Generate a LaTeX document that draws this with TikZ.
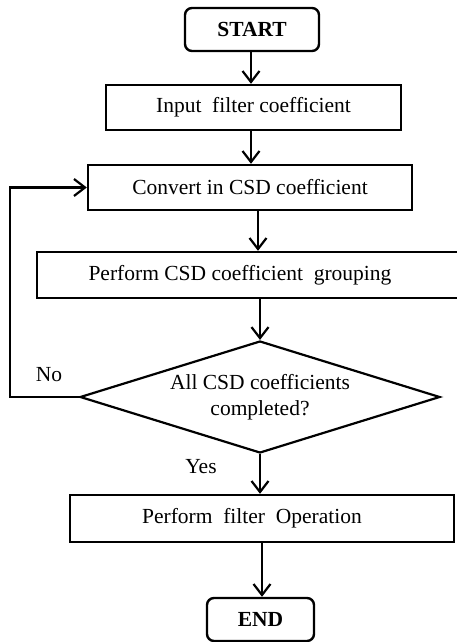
\documentclass[tikz,border=0pt]{standalone}
\usepackage{fontspec}
\setmainfont{Liberation Serif}
\usetikzlibrary{shapes.geometric,arrows.meta}
\begin{document}
\begin{tikzpicture}[x=1pt,y=-1pt,
  font=\fontsize{21.5}{26}\selectfont,
  box/.style={draw,line width=2.4pt,rectangle,inner sep=0pt},
  term/.style={draw,line width=2.4pt,rectangle,rounded corners=7pt,inner sep=0pt,font=\fontsize{21.5}{26}\selectfont\bfseries},
  decision/.style={draw,line width=2.2pt,diamond,aspect=3.2,inner sep=0pt,align=center},
  arr/.style={line width=2.2pt,-{Straight Barb[length=11pt,width=17pt,line width=2.2pt]}},
  lbl/.style={inner sep=0pt}]
\useasboundingbox (0,0) rectangle (456,642);
\node[term,minimum width=134pt,minimum height=43pt] (start) at (252,29.5) {START};
\node[box,minimum width=295pt,minimum height=45pt] (input) at (253.5,107.5) {Input\ \ filter coefficient};
\node[box,minimum width=324pt,minimum height=45pt] (conv) at (250,187.5) {Convert in CSD coefficient};
\node[box,minimum width=436pt,minimum height=46pt] (group) at (255,275) {\hspace*{-30pt}Perform CSD coefficient\ \ grouping};
\node[decision,minimum width=360pt,minimum height=112pt] (dec) at (260,397) {All CSD coefficients\\completed?};
\node[box,minimum width=384pt,minimum height=47pt] (perf) at (262,518.5) {\hspace*{-20pt}Perform\ \ filter\ \ Operation};
\node[term,minimum width=107pt,minimum height=43pt] (end) at (260.5,619.5) {END};
\node[lbl] (no) at (49,375) {No};
\node[lbl] (yes) at (201,467) {Yes};
\coordinate (lp) at (10,397);
\draw[arr] (start.south -| 251,0) -- (input.north -| 251,0);
\draw[arr] (input.south -| 251,0) -- (conv.north -| 251,0);
\draw[arr] (conv.south -| 258,0) -- (group.north -| 258,0);
\draw[arr] (group.south -| dec.north) -- (dec.north);
\draw[arr] (dec.south) -- (perf.north -| dec.south);
\draw[arr] (perf.south) -- (end.north -| perf.south);
\draw[arr] (dec.west) -- (lp) |- (conv.west);
\end{tikzpicture}
\end{document}
